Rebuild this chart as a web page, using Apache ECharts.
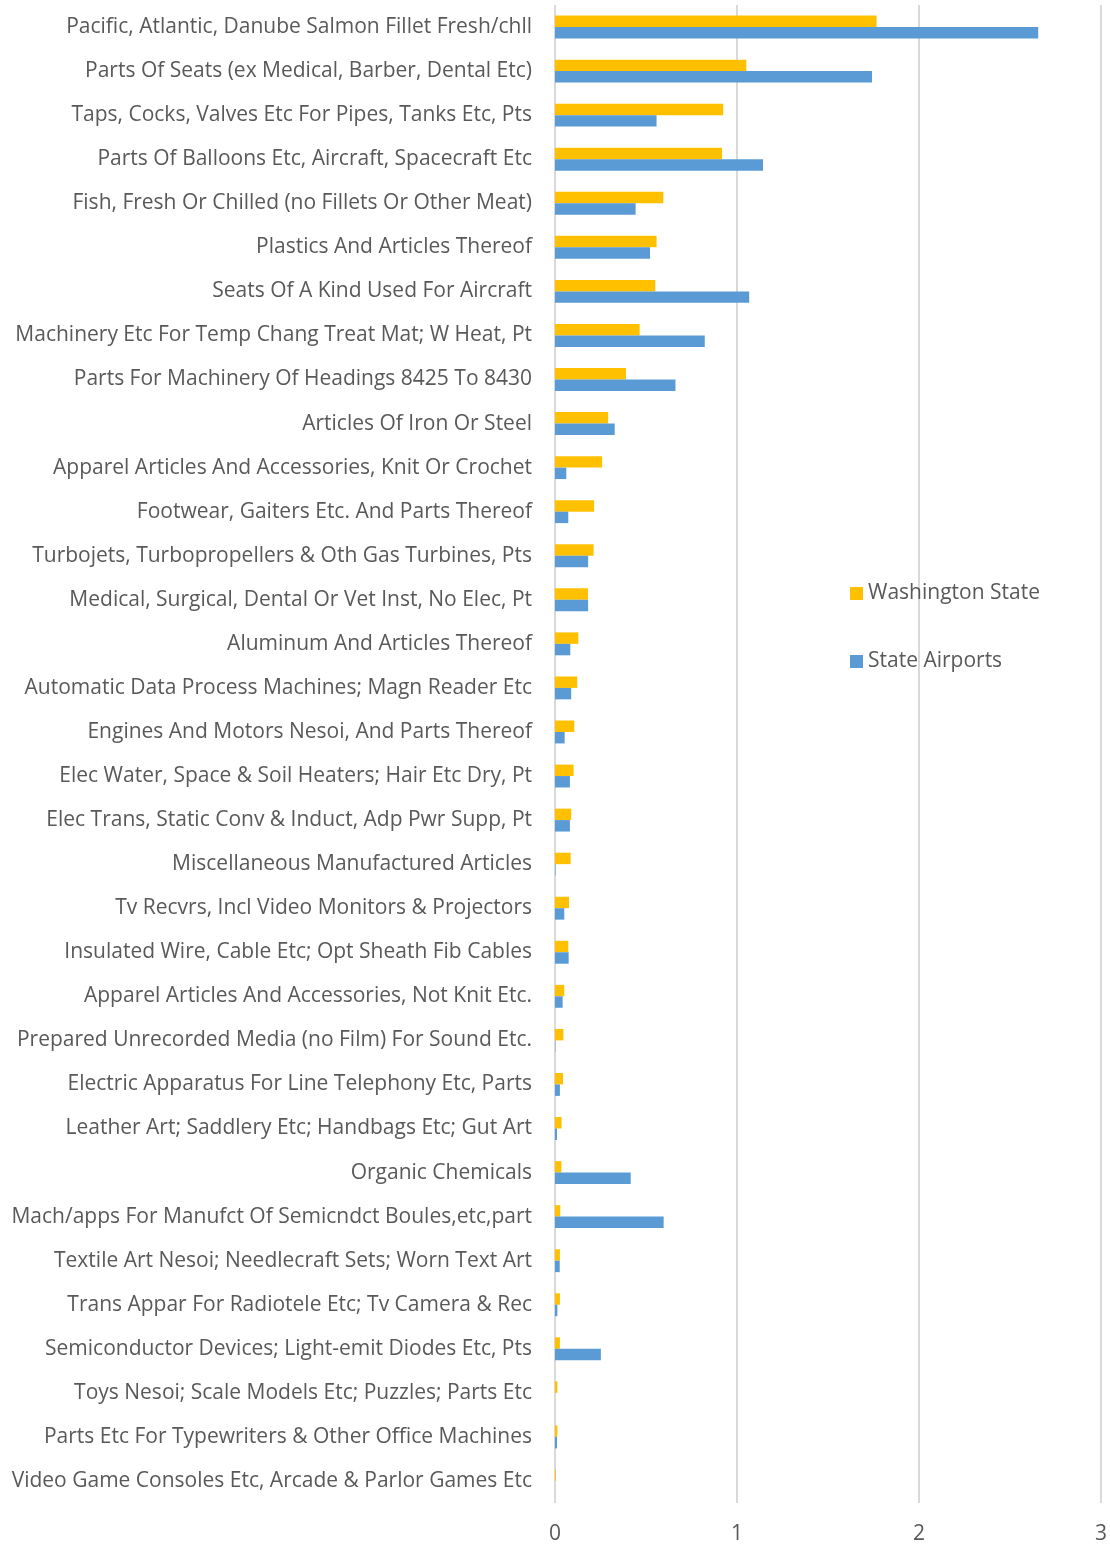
<!DOCTYPE html>
<html>
<head>
<meta charset="utf-8">
<script src="https://cdn.jsdelivr.net/npm/echarts@6/dist/echarts.min.js"></script>
<style>
  html, body { margin: 0; padding: 0; background: #fff; }
  #chart { width: 1110px; height: 1545px; }
</style>
</head>
<body>
<div id="chart"></div>
<script>
// categories, top to bottom
const categories = [
  'Pacific, Atlantic, Danube Salmon Fillet Fresh/chll',
  'Parts Of Seats (ex Medical, Barber, Dental Etc)',
  'Taps, Cocks, Valves Etc For Pipes, Tanks Etc, Pts',
  'Parts Of Balloons Etc, Aircraft, Spacecraft Etc',
  'Fish, Fresh Or Chilled (no Fillets Or Other Meat)',
  'Plastics And Articles Thereof',
  'Seats Of A Kind Used For Aircraft',
  'Machinery Etc For Temp Chang Treat Mat; W Heat, Pt',
  'Parts For Machinery Of Headings 8425 To 8430',
  'Articles Of Iron Or Steel',
  'Apparel Articles And Accessories, Knit Or Crochet',
  'Footwear, Gaiters Etc. And Parts Thereof',
  'Turbojets, Turbopropellers & Oth Gas Turbines, Pts',
  'Medical, Surgical, Dental Or Vet Inst, No Elec, Pt',
  'Aluminum And Articles Thereof',
  'Automatic Data Process Machines; Magn Reader Etc',
  'Engines And Motors Nesoi, And Parts Thereof',
  'Elec Water, Space & Soil Heaters; Hair Etc Dry, Pt',
  'Elec Trans, Static Conv & Induct, Adp Pwr Supp, Pt',
  'Miscellaneous Manufactured Articles',
  'Tv Recvrs, Incl Video Monitors & Projectors',
  'Insulated Wire, Cable Etc; Opt Sheath Fib Cables',
  'Apparel Articles And Accessories, Not Knit Etc.',
  'Prepared Unrecorded Media (no Film) For Sound Etc.',
  'Electric Apparatus For Line Telephony Etc, Parts',
  'Leather Art; Saddlery Etc; Handbags Etc; Gut Art',
  'Organic Chemicals',
  'Mach/apps For Manufct Of Semicndct Boules,etc,part',
  'Textile Art Nesoi; Needlecraft Sets; Worn Text Art',
  'Trans Appar For Radiotele Etc; Tv Camera & Rec',
  'Semiconductor Devices; Light-emit Diodes Etc, Pts',
  'Toys Nesoi; Scale Models Etc; Puzzles; Parts Etc',
  'Parts Etc For Typewriters & Other Office Machines',
  'Video Game Consoles Etc, Arcade & Parlor Games Etc'
];

const washingtonState = [
  1.767, 1.051, 0.924, 0.918, 0.595, 0.558, 0.551, 0.465, 0.39, 0.292,
  0.259, 0.215, 0.212, 0.181, 0.128, 0.122, 0.106, 0.102, 0.089, 0.086,
  0.077, 0.073, 0.051, 0.046, 0.044, 0.036, 0.035, 0.029, 0.027, 0.027,
  0.027, 0.013, 0.013, 0.005
];

const stateAirports = [
  2.655, 1.742, 0.558, 1.143, 0.443, 0.522, 1.067, 0.823, 0.662, 0.328,
  0.062, 0.073, 0.182, 0.182, 0.084, 0.089, 0.053, 0.082, 0.082, 0.003,
  0.051, 0.075, 0.042, 0.002, 0.027, 0.011, 0.416, 0.597, 0.026, 0.013,
  0.252, 0, 0.011, 0
];

const xTicks = [0, 1, 2, 3];

const chart = echarts.init(document.getElementById('chart'));
const textColor = '#595959';
const fontFamily = '"Open Sans", Lato, sans-serif';

chart.setOption({
  animation: false,
  textStyle: { fontFamily: fontFamily },
  grid: { left: 555, right: 8, top: 5, bottom: 42, containLabel: false },
  legend: {
    orient: 'vertical',
    left: 845,
    top: 578,
    itemWidth: 13,
    itemHeight: 13,
    itemGap: 47,
    icon: 'rect',
    textStyle: { color: textColor, fontSize: 21, fontFamily: fontFamily },
    data: ['Washington State', 'State Airports']
  },
  xAxis: {
    type: 'value',
    min: xTicks[0],
    max: xTicks[xTicks.length - 1],
    interval: 1,
    axisLine: { show: false },
    axisTick: { show: false },
    axisLabel: { color: textColor, fontSize: 21, margin: 21 },
    splitLine: { lineStyle: { color: '#d9d9d9', width: 2 } }
  },
  yAxis: {
    type: 'category',
    inverse: true,
    data: categories,
    axisLine: { show: false },
    axisTick: { show: false },
    axisLabel: { color: textColor, fontSize: 21, margin: 23 },
    splitLine: { show: false }
  },
  series: [
    {
      name: 'Washington State',
      type: 'bar',
      data: washingtonState,
      itemStyle: { color: '#FFC000' },
      barGap: '0%',
      barCategoryGap: '48%'
    },
    {
      name: 'State Airports',
      type: 'bar',
      data: stateAirports,
      itemStyle: { color: '#5B9BD5' },
      barGap: '0%',
      barCategoryGap: '48%'
    }
  ]
});
</script>
</body>
</html>
